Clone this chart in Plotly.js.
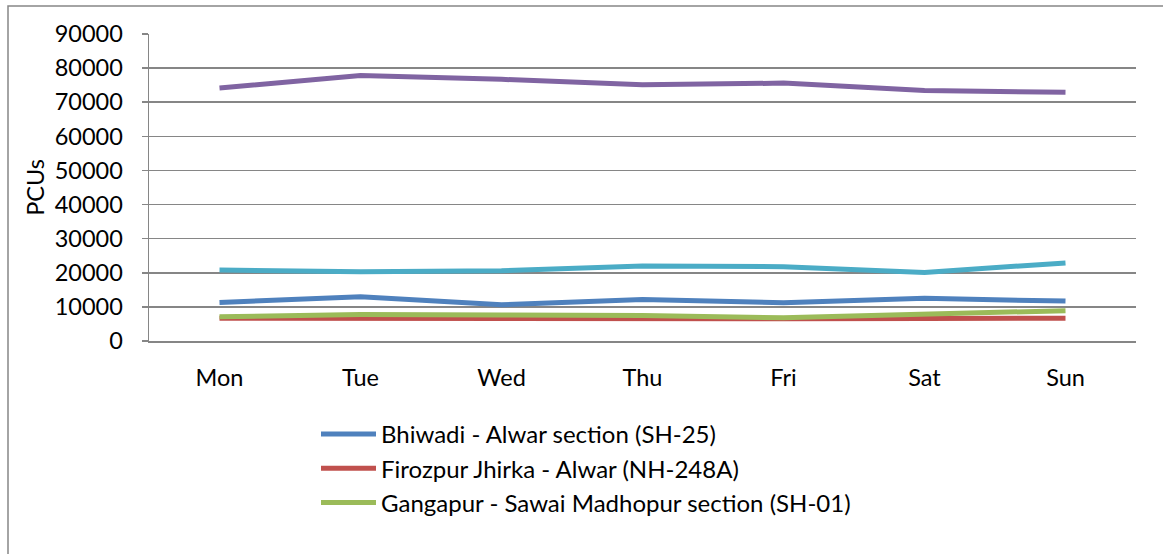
<!DOCTYPE html>
<html>
<head>
<meta charset="utf-8">
<script src="https://cdn.plot.ly/plotly-3.0.1.min.js"></script>
<style>html,body{margin:0;padding:0;background:#fff;}#chart{width:1163px;height:554px;}</style>
</head>
<body>
<div id="chart"></div>
<script>
const days = ["Mon", "Tue", "Wed", "Thu", "Fri", "Sat", "Sun"];
const bhiwadiAlwar = [11300, 13000, 10600, 12200, 11200, 12500, 11700];
const firozpurAlwar = [6700, 6600, 6500, 6400, 6500, 6600, 6700];
const gangapurSawai = [7100, 7800, 7600, 7500, 6800, 7800, 8900];
const series4 = [74200, 77800, 76700, 75100, 75600, 73400, 72900];
const series5 = [20800, 20300, 20600, 22000, 21800, 20100, 22900];
const yTicks = [0, 10000, 20000, 30000, 40000, 50000, 60000, 70000, 80000, 90000];

const FONT = "Lato, 'Open Sans', sans-serif";
const FS = 23.5;
const W = 5;
const traces = [
  {x: days, y: bhiwadiAlwar, name: "Bhiwadi - Alwar section (SH-25)", color: "#4F81BD", show: true},
  {x: days, y: firozpurAlwar, name: "Firozpur Jhirka - Alwar (NH-248A)", color: "#C0504D", show: true},
  {x: days, y: gangapurSawai, name: "Gangapur - Sawai Madhopur section (SH-01)", color: "#9BBB59", show: true},
  {x: days, y: series4, name: "Series 4", color: "#8064A2", show: false},
  {x: days, y: series5, name: "Series 5", color: "#4BACC6", show: false}
].map(s => ({
  type: "scatter", mode: "lines", x: s.x, y: s.y, name: s.name,
  showlegend: s.show,
  line: {color: s.color, width: W}
}));

const layout = {
  width: 1163, height: 554,
  margin: {l: 149, r: 27, t: 34, b: 213},
  paper_bgcolor: "#fff", plot_bgcolor: "#fff",
  font: {family: FONT, size: FS, color: "#000"},
  showlegend: true,
  xaxis: {
    type: "category",
    range: [-0.5, 6.5],
    showgrid: false, zeroline: false,
    showline: true, linecolor: "#868686", linewidth: 1.5,
    ticks: "", ticklabelstandoff: 15,
    tickfont: {family: FONT, size: FS, color: "#000"},
    fixedrange: true
  },
  yaxis: {
    range: [0, 90000],
    tickvals: yTicks,
    ticktext: yTicks.map(String),
    showgrid: true, gridcolor: "#868686", gridwidth: 1.5,
    zeroline: false,
    showline: true, linecolor: "#868686", linewidth: 1.5,
    ticks: "outside", ticklen: 6, tickcolor: "#868686", tickwidth: 1.5,
    ticklabelstandoff: 14,
    tickfont: {family: FONT, size: FS, color: "#000"},
    title: {text: "PCUs", font: {family: FONT, size: FS, color: "#000"}, standoff: 3},
    fixedrange: true
  },
  legend: {
    x: (316 - 149) / 987, xanchor: "left",
    y: (341 - 412) / 307, yanchor: "top",
    bgcolor: "rgba(0,0,0,0)",
    font: {family: FONT, size: 24, color: "#000"},
    itemwidth: 55,
    tracegroupgap: 0
  },
  shapes: [{
    type: "rect", xref: "paper", yref: "paper",
    x0: (8 - 149) / 987, x1: (1175 - 149) / 987,
    y0: (341 - 570) / 307, y1: (341 - 6) / 307,
    line: {color: "#868686", width: 1.5},
    fillcolor: "rgba(0,0,0,0)", layer: "below"
  }]
};

Plotly.newPlot("chart", traces, layout, {displayModeBar: false, staticPlot: true});
</script>
</body>
</html>
